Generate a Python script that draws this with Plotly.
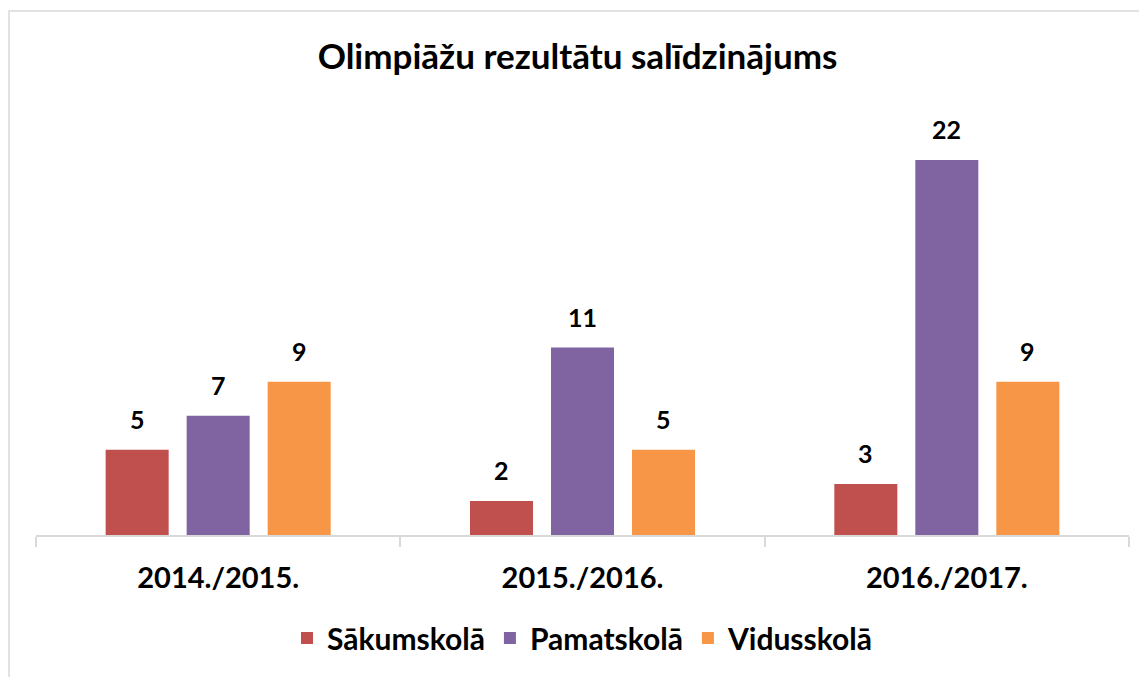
import plotly.graph_objects as go

categories = ["2014./2015.", "2015./2016.", "2016./2017."]
series_names = ["Sākumskolā", "Pamatskolā", "Vidusskolā"]
sakumskola = [5, 2, 3]
pamatskola = [7, 11, 22]
vidusskola = [9, 5, 9]
colors = ["#C0504D", "#8064A2", "#F79646"]
title_text = "Olimpiāžu rezultātu salīdzinājums"

series_values = [sakumskola, pamatskola, vidusskola]

FONT = "Lato"
OFF = 8  # page body margin
W, H = 1147 - OFF, 677 - OFF
ml, mr, mt, mb = 36 - OFF, 18, 109 - OFF, 142
bargap = 0.333
bargroupgap = 0.222

fig = go.Figure()
for name, vals, col in zip(series_names, series_values, colors):
    fig.add_trace(go.Bar(
        x=categories, y=vals, name=f"<b>{name}</b>",
        marker=dict(color=col, line=dict(width=0)),
    ))

# data labels above bars
slot = (1 - bargap) / len(series_values)
for j, vals in enumerate(series_values):
    for i, v in enumerate(vals):
        fig.add_annotation(
            x=i + (j - (len(series_values) - 1) / 2) * slot, y=v,
            xref="x", yref="y", text=f"<b>{v}</b>", showarrow=False,
            yanchor="bottom", yshift=14,
            font=dict(family=FONT, size=25, color="#000000"),
        )

plot_w = W - ml - mr
plot_h = H - mt - mb
# outer chart border (figure px: left 1, top 3)
bl, bt = 1.0, 11 - OFF
fig.add_shape(type="rect", xref="paper", yref="paper",
              x0=(bl - ml) / plot_w, x1=(W + 20 - ml) / plot_w,
              y0=-(H + 20 - mt - plot_h) / plot_h, y1=(H - mb - bt) / plot_h,
              line=dict(color="#D9D9D9", width=1.5), fillcolor="rgba(0,0,0,0)",
              layer="below")

fig.update_layout(
    width=W, height=H,
    margin=dict(l=ml, r=mr, t=mt, b=mb),
    paper_bgcolor="white", plot_bgcolor="white",
    barmode="group", bargap=bargap, bargroupgap=bargroupgap,
    title=dict(text=f"<b>{title_text}</b>", x=0.5, xanchor="center",
               y=1 - (57 - OFF) / H, yanchor="middle",
               font=dict(family=FONT, size=35, color="#000000")),
    legend=dict(orientation="h", x=0.5, xanchor="center",
                y=-(638 - 535) / plot_h, yanchor="middle",
                font=dict(family=FONT, size=30, color="#000000"),
                itemsizing="constant", traceorder="normal"),
    showlegend=True,
    font=dict(family=FONT, color="#000000"),
)

fig.update_xaxes(
    type="category", range=[-0.5, 2.5],
    showline=True, linecolor="#D9D9D9", linewidth=1.5,
    ticks="outside", tickson="boundaries", ticklen=10, tickcolor="#D9D9D9", tickwidth=1.5,
    tickfont=dict(family=FONT, size=29, color="#000000"),
    tickprefix="<b>", ticksuffix="</b>", ticklabelstandoff=16,
    showgrid=False, zeroline=False,
)
fig.update_yaxes(range=[0, 25], visible=False, showgrid=False, zeroline=False)

fig.write_html("out.html")
